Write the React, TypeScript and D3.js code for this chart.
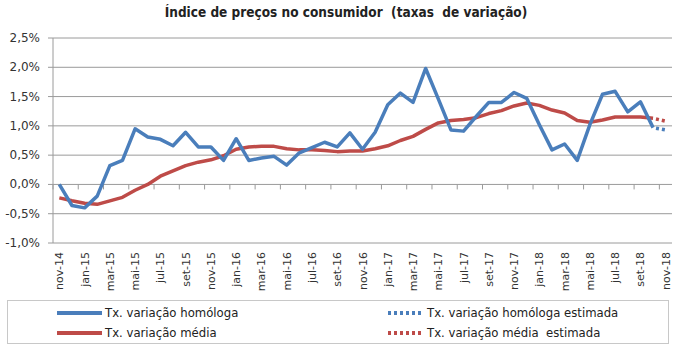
import React from "react";
import * as d3 from "d3";

const categories = [
  "nov-14","dez-14",
  "jan-15","fev-15","mar-15","abr-15","mai-15","jun-15","jul-15","ago-15","set-15","out-15","nov-15","dez-15",
  "jan-16","fev-16","mar-16","abr-16","mai-16","jun-16","jul-16","ago-16","set-16","out-16","nov-16","dez-16",
  "jan-17","fev-17","mar-17","abr-17","mai-17","jun-17","jul-17","ago-17","set-17","out-17","nov-17","dez-17",
  "jan-18","fev-18","mar-18","abr-18","mai-18","jun-18","jul-18","ago-18","set-18","out-18","nov-18",
];

const homologa: (number | null)[] = [
  0.0, -0.36,
  -0.4, -0.2, 0.32, 0.41, 0.95, 0.81, 0.77, 0.66, 0.89, 0.64, 0.64, 0.41,
  0.78, 0.41, 0.45, 0.48, 0.33, 0.54, 0.63, 0.72, 0.64, 0.88, 0.6, 0.89,
  1.36, 1.56, 1.4, 1.98, 1.46, 0.93, 0.91, 1.16, 1.4, 1.4, 1.57, 1.47,
  1.02, 0.59, 0.69, 0.41, 1.02, 1.54, 1.59, 1.24, 1.41, 0.97, null,
];

const media: (number | null)[] = [
  -0.23, -0.28,
  -0.32, -0.34, -0.28, -0.22, -0.1, 0.0, 0.14, 0.23, 0.32, 0.38, 0.42, 0.49,
  0.6, 0.64, 0.65, 0.65, 0.61, 0.59, 0.59, 0.58, 0.56, 0.57, 0.57, 0.61,
  0.66, 0.75, 0.82, 0.94, 1.05, 1.09, 1.11, 1.14, 1.21, 1.26, 1.34, 1.39,
  1.35, 1.27, 1.22, 1.09, 1.06, 1.1, 1.15, 1.15, 1.15, 1.13, null,
];

const homologaEstimada: (number | null)[] = categories.map((c) =>
  c === "out-18" ? 0.97 : c === "nov-18" ? 0.93 : null
);
const mediaEstimada: (number | null)[] = categories.map((c) =>
  c === "out-18" ? 1.13 : c === "nov-18" ? 1.08 : null
);

const yTicks = [-1, -0.5, 0, 0.5, 1, 1.5, 2, 2.5];
const xTickLabels = categories.filter((_, i) => i % 2 === 0);

const title = "Índice de preços no consumidor  (taxas  de variação)";
const legendItems = [
  { label: "Tx. variação homóloga", color: "#4A7EBB", dashed: false },
  { label: "Tx. variação média", color: "#BE4B48", dashed: false },
  { label: "Tx. variação homóloga estimada", color: "#4A7EBB", dashed: true },
  { label: "Tx. variação média  estimada", color: "#BE4B48", dashed: true },
];

const BLUE = "#4A7EBB";
const RED = "#BE4B48";

export default function App() {
  const W = 681, H = 350;
  const left = 53, right = 672, top = 38, bottom = 243;
  const x = d3.scaleBand<string>().domain(categories).range([left, right]).padding(0);
  const y = d3.scaleLinear().domain([-1, 2.5]).range([bottom, top]);
  const cx = (i: number) => (x(categories[i]) as number) + x.bandwidth() / 2;

  const line = d3
    .line<number | null>()
    .defined((d) => d !== null)
    .x((_, i) => cx(i))
    .y((d) => y(d as number));

  const fmt = (v: number) => v.toFixed(1).replace(".", ",") + "%";
  const zeroY = y(0);

  return (
    <svg width={W} height={H} style={{ position: "absolute", left: 0, top: 0, background: "#fff" }}>
      <text x={346} y={17} textAnchor="middle" fontFamily="'Liberation Sans Narrow','DejaVu Sans Condensed',sans-serif" fontWeight="bold" fontSize={13.5} fill="#222" style={{ whiteSpace: "pre" }}>
        {title}
      </text>

      {yTicks.map((t) => (
        <g key={t}>
          {t !== 0 && (
            <line x1={left} x2={right} y1={y(t)} y2={y(t)} stroke="#9a9a9a" strokeWidth={1} />
          )}
          <line x1={left - 5} x2={left} y1={y(t)} y2={y(t)} stroke="#9a9a9a" />
          <text x={40} y={y(t) + 4} textAnchor="end" fontFamily="'DejaVu Sans',sans-serif" fontSize={12} fill="#333">
            {fmt(t)}
          </text>
        </g>
      ))}
      <line x1={left} x2={left} y1={top} y2={bottom} stroke="#9a9a9a" />
      <line x1={left} x2={right} y1={zeroY} y2={zeroY} stroke="#9a9a9a" />
      {categories.map((c, i) =>
        i % 2 === 0 ? (
          <line key={c} x1={x(c) as number} x2={x(c) as number} y1={zeroY} y2={zeroY + 5} stroke="#9a9a9a" />
        ) : null
      )}

      {xTickLabels.map((c) => {
        const px = (x(c) as number) + x.bandwidth() / 2;
        return (
          <text key={c} transform={`translate(${px + 4},252) rotate(-90)`} textAnchor="end" fontFamily="'DejaVu Sans',sans-serif" fontSize={11} fill="#333">
            {c}
          </text>
        );
      })}

      <path d={line(media) || ""} fill="none" stroke={RED} strokeWidth={3.5} strokeLinejoin="round" />
      <path d={line(homologa) || ""} fill="none" stroke={BLUE} strokeWidth={3.5} strokeLinejoin="round" />
      <path d={line(mediaEstimada) || ""} fill="none" stroke={RED} strokeWidth={3.5} strokeDasharray="3 3" strokeDashoffset={3} />
      <path d={line(homologaEstimada) || ""} fill="none" stroke={BLUE} strokeWidth={3.5} strokeDasharray="3 3" strokeDashoffset={3} />

      <rect x={7.5} y={300.5} width={661} height={43} fill="#fff" stroke="#c8c8c8" />
      {legendItems.map((it, i) => {
        const col = Math.floor(i / 2);
        const row = i % 2;
        const lx = col === 0 ? 57 : 388;
        const ly = 313 + row * 20;
        return (
          <g key={it.label}>
            <line x1={lx} x2={lx + (col === 0 ? 45 : 35)} y1={ly} y2={ly} stroke={it.color} strokeWidth={4} strokeDasharray={it.dashed ? "3 3" : undefined} />
            <text x={col === 0 ? 105 : 427} y={ly + 4} fontFamily="'DejaVu Sans',sans-serif" fontSize={11.7} fill="#222" style={{ whiteSpace: "pre" }}>
              {it.label}
            </text>
          </g>
        );
      })}
    </svg>
  );
}
